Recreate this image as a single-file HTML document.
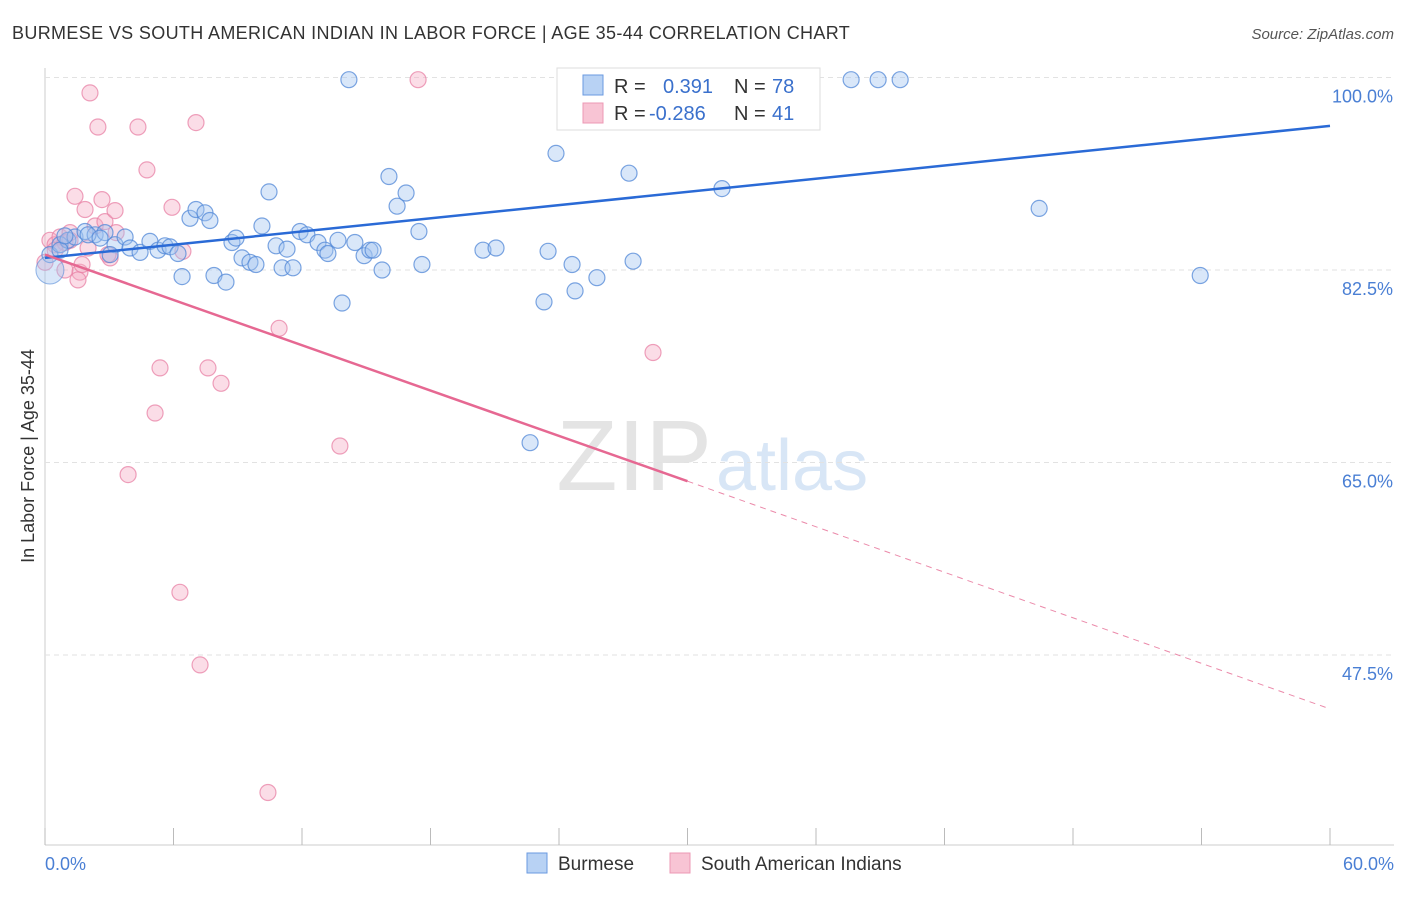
<!DOCTYPE html>
<html><head><meta charset="utf-8"><style>
body{margin:0;background:#fff;font-family:"Liberation Sans",sans-serif;}
svg text{font-family:"Liberation Sans",sans-serif;}
</style></head><body>
<svg id="chart" width="1406" height="892">
<text x="12" y="39" font-size="18" fill="#333" letter-spacing="0.35">BURMESE VS SOUTH AMERICAN INDIAN IN LABOR FORCE | AGE 35-44 CORRELATION CHART</text>
<text x="1394" y="39" font-size="15" fill="#555" font-style="italic" text-anchor="end">Source: ZipAtlas.com</text>
<text x="712" y="490" font-size="100" fill="#e4e4e4" text-anchor="end" font-family="Liberation Serif">ZIP</text>
<text x="716" y="490" font-size="72" fill="#d8e6f6">atlas</text>
<g id="grid"></g><g id="pts"></g><g id="lines"></g>
<text transform="translate(34,456) rotate(-90)" font-size="18" fill="#333" text-anchor="middle">In Labor Force | Age 35-44</text>
<text x="45" y="870" font-size="18" fill="#4a7fd4">0.0%</text>
<text x="1394" y="870" font-size="18" fill="#4a7fd4" text-anchor="end">60.0%</text>
<g>
<rect x="557" y="68" width="263" height="62" fill="#fff" stroke="#ddd"/>
<rect x="583" y="75" width="20" height="20" fill="#b8d2f4" stroke="#6a9ae0"/>
<rect x="583" y="103" width="20" height="20" fill="#f8c4d4" stroke="#ec98b4"/>
<text x="614" y="93" font-size="20" fill="#333">R = </text><text x="663" y="93" font-size="20" fill="#3a70cc">0.391</text>
<text x="734" y="93" font-size="20" fill="#333">N = </text><text x="772" y="93" font-size="20" fill="#3a70cc">78</text>
<text x="614" y="120" font-size="20" fill="#333">R = </text><text x="649" y="120" font-size="20" fill="#3a70cc">-0.286</text>
<text x="734" y="120" font-size="20" fill="#333">N = </text><text x="772" y="120" font-size="20" fill="#3a70cc">41</text>
</g>
<g>
<rect x="527" y="853" width="20" height="20" fill="#b8d2f4" stroke="#6a9ae0"/>
<text x="558" y="870" font-size="19" fill="#333">Burmese</text>
<rect x="670" y="853" width="20" height="20" fill="#f8c4d4" stroke="#ec98b4"/>
<text x="701" y="870" font-size="19" fill="#333">South American Indians</text>
</g>
</svg>
<script>
const yTicks=[100,82.5,65,47.5];
const xTicks=[0,6,12,18,24,30,36,42,48,54,60];
const blueX=[0.23,0.70,1.07,1.40,1.87,2.34,2.80,3.27,3.74,3.97,4.44,4.90,5.28,5.60,5.84,6.21,6.40,6.77,7.05,7.47,7.70,7.89,8.45,8.73,8.92,9.20,9.57,9.85,10.13,10.46,10.79,11.07,11.30,11.58,11.91,12.23,12.75,13.07,13.21,13.68,13.87,14.19,14.47,14.90,15.17,15.32,15.74,16.06,16.44,16.86,17.46,17.60,20.45,21.06,22.65,23.30,23.49,23.86,24.61,24.75,25.77,27.27,27.46,31.61,37.64,38.90,39.93,46.42,53.94,24.98,26.48,29.65,3.04,0.70,0.93,2.01,2.57];
const blueY=[83.9,84.8,85.2,85.5,86.0,85.7,85.9,84.8,85.5,84.5,84.1,85.1,84.3,84.7,84.6,84.0,81.9,87.2,88.0,87.7,87.0,82.0,81.4,85.0,85.4,83.6,83.2,83.0,86.5,89.6,84.7,82.7,84.4,82.7,86.0,85.7,85.0,84.3,84.0,85.2,79.5,99.8,85.0,83.8,84.3,84.3,82.5,91.0,88.3,89.5,86.0,83.0,84.3,84.5,66.8,79.6,84.2,93.1,83.0,80.6,81.8,91.3,83.3,89.9,99.8,99.8,99.8,88.1,82.0,99.8,99.8,99.8,83.9,84.3,85.6,85.7,85.4];
const pinkX=[0.23,0.47,0.70,0.93,1.17,1.40,1.63,1.87,2.10,2.34,2.47,2.66,2.80,3.04,3.27,3.32,3.88,4.34,4.76,5.14,5.37,5.93,6.30,6.44,7.05,7.24,7.61,8.22,10.41,10.93,13.77,17.42,28.39,1.54,1.73,0.0,1.17,2.94,0.47,0.93,2.01];
const pinkY=[85.2,84.8,85.5,85.0,85.2,89.2,82.3,88.0,98.6,86.5,95.5,88.9,86.9,83.6,87.9,85.9,63.9,95.5,91.6,69.5,73.6,88.2,53.2,84.2,95.9,46.6,73.6,72.2,35.0,77.2,66.5,99.8,75.0,81.6,83.0,83.2,85.9,83.9,84.3,82.5,84.5];
const blueTrend=[[0,83.6],[60,95.6]];
const pinkTrend=[[0,83.9],[30,63.3],[60,42.6]];
const X=v=>45+v/60*1285, Y=v=>77.5+(100-v)*11;
const NS="http://www.w3.org/2000/svg";
function mk(t,a,p){const e=document.createElementNS(NS,t);for(const k in a)e.setAttribute(k,a[k]);p.appendChild(e);return e;}
const grid=document.getElementById('grid');
mk('line',{x1:45,y1:68,x2:45,y2:845,stroke:'#ccc'},grid);
mk('line',{x1:45,y1:845,x2:1394,y2:845,stroke:'#ccc'},grid);
yTicks.forEach(t=>{
 const l=mk('line',{x1:45,y1:Y(t),x2:1394,y2:Y(t),stroke:'#e2e2e2','stroke-dasharray':'5,4'},grid);
 
 
 const tx=mk('text',{x:1393,y:Y(t)+25,'font-size':18,fill:'#4a7fd4','text-anchor':'end'},grid);tx.textContent=t.toFixed(1)+'%';
 
 
});
xTicks.forEach(t=>{
 const l=mk('line',{x1:X(t),y1:828,x2:X(t),y2:845,stroke:'#bbb'},grid);
 
 
});
const pts=document.getElementById('pts');
pinkX.forEach((x,i)=>{
 const c=mk('circle',{cx:X(x),cy:Y(pinkY[i]),r:8,fill:'rgba(244,170,195,0.4)',stroke:'rgba(232,130,165,0.75)','stroke-width':1.2},pts);
 
 
});
blueX.forEach((x,i)=>{
 const c=mk('circle',{cx:X(x),cy:Y(blueY[i]),r:8,fill:'rgba(160,196,240,0.4)',stroke:'rgba(80,135,215,0.75)','stroke-width':1.2},pts);
 
 
});
const big=mk('circle',{cx:X(0.23),cy:Y(82.5),r:14,fill:'rgba(160,196,240,0.4)',stroke:'rgba(80,135,215,0.6)'},pts);


const lines=document.getElementById('lines');
const bl=mk('line',{x1:X(blueTrend[0][0]),y1:Y(blueTrend[0][1]),x2:X(blueTrend[1][0]),y2:Y(blueTrend[1][1]),stroke:'#2a6ad6','stroke-width':2.5},lines);


const pl=mk('line',{x1:X(pinkTrend[0][0]),y1:Y(pinkTrend[0][1]),x2:X(pinkTrend[1][0]),y2:Y(pinkTrend[1][1]),stroke:'#e66892','stroke-width':2.5},lines);


const pd=mk('line',{x1:X(pinkTrend[1][0]),y1:Y(pinkTrend[1][1]),x2:X(pinkTrend[2][0]),y2:Y(pinkTrend[2][1]),stroke:'#eb8aaa','stroke-width':1,'stroke-dasharray':'6,5'},lines);


</script>
</body></html>
